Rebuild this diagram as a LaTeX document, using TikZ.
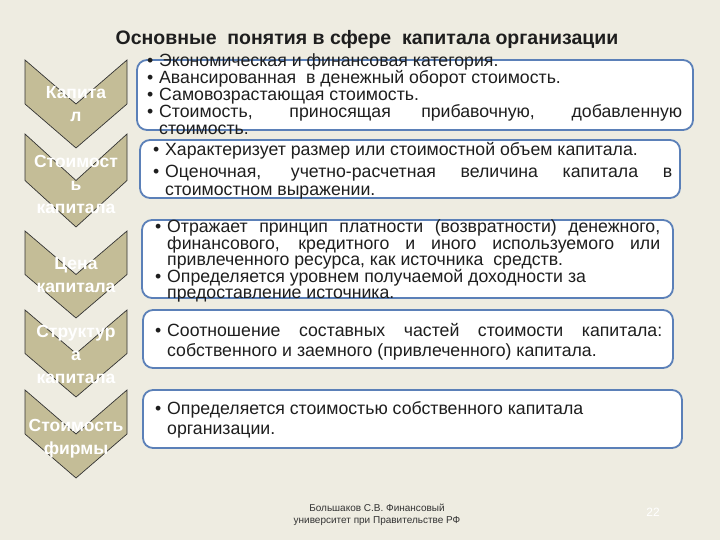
\documentclass[tikz,border=0pt]{standalone}
\usepackage{fontspec}
\setmainfont{Liberation Sans}
\definecolor{bg}{HTML}{EEECE1}
\definecolor{chevfill}{HTML}{C4BD97}
\definecolor{boxline}{HTML}{5B80B8}
\definecolor{txt}{HTML}{1E1E1E}
\hyphenpenalty=10000
\exhyphenpenalty=10000
\tolerance=9999
\lineskiplimit=-20pt
\newcommand{\bul}{\par\noindent\hangindent=12pt\hangafter=1\makebox[12pt][l]{\textbullet}}

\begin{document}
\begin{tikzpicture}[x=1pt,y=-1pt,
    chev/.style={draw=black!80, fill=chevfill, line width=0.7pt},
    chevtext/.style={text=white, align=center, inner sep=0pt, font=\bfseries\fontsize{17.5}{23}\selectfont},
    infobox/.style={draw=boxline, fill=white, line width=1.8pt, rounded corners=10pt},
    infotext/.style={text=txt, anchor=north west, inner sep=0pt, align=justify},
    ]
    \fill[bg] (0,0) rectangle (720,540);
    \node[text=txt, font=\bfseries\fontsize{19.5}{23}\selectfont] (title) at (367,39) {Основные~ понятия в сфере~ капитала организации};

    % chevrons: top corners / point
    \foreach \t/\b in {60/148,134/227,231/318,310/397,390/478}
        \draw[chev] (25,\t) -- (76,{(\t+\b)/2}) -- (127,\t) -- (127,{(\t+\b)/2}) -- (76,\b) -- (25,{(\t+\b)/2}) -- cycle;
    \node[chevtext] (cap) at (76,104) {Капита\\л};
    \node[chevtext] (value) at (76,184) {Стоимост\\ь\\капитала};
    \node[chevtext] (price) at (76,275) {Цена\\капитала};
    \node[chevtext] (struct) at (76,354) {Структур\\а\\капитала};
    \node[chevtext] (firm) at (76,439) {Стоимость\\фирмы};

    % boxes
    \draw[infobox] (137,60) rectangle (693,130);
    \draw[infobox] (140,140) rectangle (680,198);
    \draw[infobox] (142,220) rectangle (673,298);
    \draw[infobox] (143,310) rectangle (673,368);
    \draw[infobox] (143,390) rectangle (682,448);

    \node[infotext, text width=535pt, font=\fontsize{17.7}{17}\selectfont] (capt) at (147,49)
        {\bul Экономическая и финансовая категория.
         \bul Авансированная~ в денежный оборот стоимость.
         \bul Самовозрастающая стоимость.
         \bul Стоимость, приносящая прибавочную, добавленную\linebreak стоимость.\par};
    \node[infotext, text width=519pt, font=\fontsize{17.7}{18.5}\selectfont\setlength{\parskip}{3.5pt}] (valuet) at (153,133)
        {\bul Характеризует размер или стоимостной объем капитала.
         \bul Оценочная, учетно-расчетная величина капитала в стоимостном выражении.\par};
    \node[infotext, text width=505pt, font=\fontsize{17.7}{15.2}\selectfont] (pricet) at (155,217)
        {\bul Отражает принцип платности (возвратности) денежного, финансового, кредитного и иного используемого или привлеченного ресурса, как источника~ средств.
         \bul Определяется уровнем получаемой доходности за\\предоставление источника.\par};
    \node[infotext, text width=507pt, font=\fontsize{17.7}{20}\selectfont] (structt) at (155,316)
        {\bul Соотношение составных частей стоимости капитала: собственного и заемного (привлеченного) капитала.\par};
    \node[infotext, text width=507pt, font=\fontsize{17.7}{20}\selectfont] (firmt) at (155,394)
        {\bul Определяется стоимостью собственного капитала\\организации.\par};

    \node[text=black!80, align=center, font=\fontsize{10}{12}\selectfont] (author) at (377,515) {Большаков С.В. Финансовый\\университет при Правительстве РФ};
    \node[text=white, font=\fontsize{12}{14}\selectfont] (pagenum) at (653,512) {22};
\end{tikzpicture}
\end{document}
